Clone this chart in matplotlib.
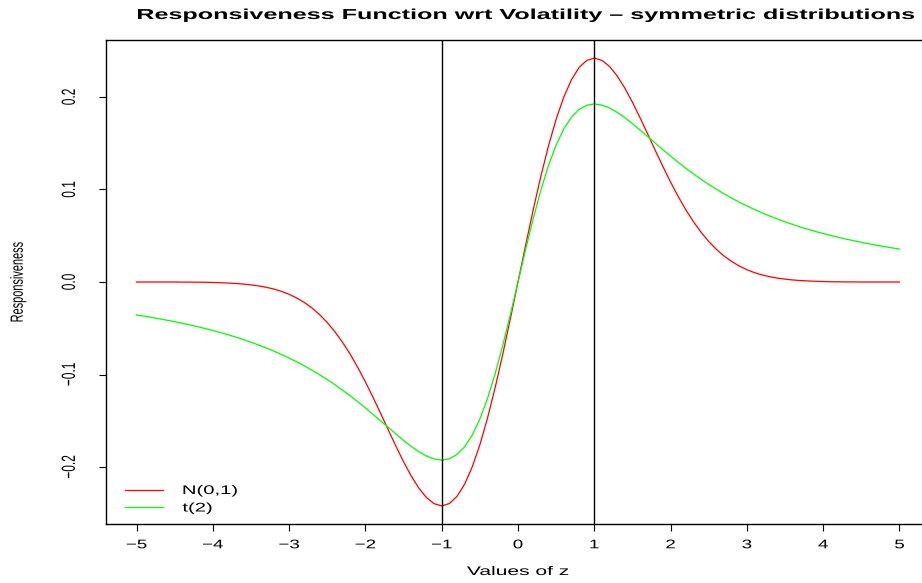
import numpy as np
import matplotlib
matplotlib.use("Agg")
import matplotlib.pyplot as plt
from matplotlib.patheffects import AbstractPathEffect
from matplotlib.transforms import Affine2D
from matplotlib.path import Path

# ---------------- data ----------------
title = "Responsiveness Function wrt Volatility \u2013 symmetric distributions"
x_label = "Values of z"
y_label = "Responsiveness"
series_names = ["N(0,1)", "t(2)"]
series_colors = ["#FF0000", "#00FF00"]

z = np.round(np.linspace(-5.0, 5.0, 101), 1)

normal_resp = [
    -0.0000, -0.0000, -0.0000, -0.0000, -0.0000, -0.0000, -0.0001, -0.0001, -0.0002, -0.0003,
    -0.0005, -0.0008, -0.0011, -0.0016, -0.0022, -0.0031, -0.0042, -0.0057, -0.0076, -0.0101,
    -0.0133, -0.0173, -0.0222, -0.0281, -0.0353, -0.0438, -0.0537, -0.0652, -0.0780, -0.0924,
    -0.1080, -0.1247, -0.1421, -0.1599, -0.1775, -0.1943, -0.2096, -0.2228, -0.2330, -0.2396,
    -0.2420, -0.2395, -0.2318, -0.2186, -0.1999, -0.1760, -0.1473, -0.1144, -0.0782, -0.0397,
    0.0000,
    0.0397, 0.0782, 0.1144, 0.1473, 0.1760, 0.1999, 0.2186, 0.2318, 0.2395, 0.2420,
    0.2396, 0.2330, 0.2228, 0.2096, 0.1943, 0.1775, 0.1599, 0.1421, 0.1247, 0.1080,
    0.0924, 0.0780, 0.0652, 0.0537, 0.0438, 0.0353, 0.0281, 0.0222, 0.0173, 0.0133,
    0.0101, 0.0076, 0.0057, 0.0042, 0.0031, 0.0022, 0.0016, 0.0011, 0.0008, 0.0005,
    0.0003, 0.0002, 0.0001, 0.0001, 0.0000, 0.0000, 0.0000, 0.0000, 0.0000, 0.0000,
]

t2_resp = [
    -0.0356, -0.0369, -0.0383, -0.0398, -0.0413, -0.0429, -0.0446, -0.0464, -0.0483, -0.0503,
    -0.0524, -0.0546, -0.0570, -0.0595, -0.0622, -0.0651, -0.0681, -0.0713, -0.0747, -0.0784,
    -0.0822, -0.0863, -0.0907, -0.0954, -0.1003, -0.1055, -0.1110, -0.1169, -0.1230, -0.1294,
    -0.1361, -0.1430, -0.1501, -0.1572, -0.1643, -0.1712, -0.1777, -0.1834, -0.1881, -0.1913,
    -0.1925, -0.1911, -0.1865, -0.1782, -0.1655, -0.1481, -0.1260, -0.0993, -0.0686, -0.0351,
    0.0000,
    0.0351, 0.0686, 0.0993, 0.1260, 0.1481, 0.1655, 0.1782, 0.1865, 0.1911, 0.1925,
    0.1913, 0.1881, 0.1834, 0.1777, 0.1712, 0.1643, 0.1572, 0.1501, 0.1430, 0.1361,
    0.1294, 0.1230, 0.1169, 0.1110, 0.1055, 0.1003, 0.0954, 0.0907, 0.0863, 0.0822,
    0.0784, 0.0747, 0.0713, 0.0681, 0.0651, 0.0622, 0.0595, 0.0570, 0.0546, 0.0524,
    0.0503, 0.0483, 0.0464, 0.0446, 0.0429, 0.0413, 0.0398, 0.0383, 0.0369, 0.0356,
]

vline_positions = [-1, 1]
x_ticks = [-5, -4, -3, -2, -1, 0, 1, 2, 3, 4, 5]
x_tick_labels = ["\u22125", "\u22124", "\u22123", "\u22122", "\u22121", "0", "1", "2", "3", "4", "5"]
y_ticks = [-0.2, -0.1, 0.0, 0.1, 0.2]
y_tick_labels = ["\u22120.2", "\u22120.1", "0.0", "0.1", "0.2"]


# ---------------- text stretch effect (keeps real Text artists) ----------------
class Stretch(AbstractPathEffect):
    def __init__(self, sx=1.0, sy=1.0, anchor="center"):
        super().__init__()
        self.sx, self.sy, self.anchor = sx, sy, anchor

    def draw_path(self, renderer, gc, tpath, affine, rgbFace=None):
        v = tpath.vertices
        if tpath.codes is not None:
            v = v[tpath.codes != Path.CLOSEPOLY]
        if len(v):
            x0, x1 = v[:, 0].min(), v[:, 0].max()
            y0, y1 = v[:, 1].min(), v[:, 1].max()
        else:
            x0 = x1 = y0 = y1 = 0.0
        cx = x0 if self.anchor == "left" else 0.5 * (x0 + x1)
        cy = 0.5 * (y0 + y1)
        pre = Affine2D().translate(-cx, -cy).scale(self.sx, self.sy).translate(cx, cy)
        renderer.draw_path(gc, tpath, pre + affine, rgbFace)


plt.rcParams["font.family"] = ["Liberation Sans", "DejaVu Sans"]

W, H = 922, 583
fig = plt.figure(figsize=(W / 100, H / 100), dpi=100)
ax_left, ax_right, ax_top, ax_bottom = 106, 930, 40, 524
ax = fig.add_axes([ax_left / W, 1 - ax_bottom / H, (ax_right - ax_left) / W, (ax_bottom - ax_top) / H])

ax.plot(z, normal_resp, color=series_colors[0], lw=0.9, label=series_names[0])
ax.plot(z, t2_resp, color=series_colors[1], lw=0.9, label=series_names[1])
for xv in vline_positions:
    ax.axvline(xv, color="black", lw=1.0)

ax.set_xlim(-5.4, 5.4)
ax.set_ylim(-0.2616, 0.2616)

for s in ax.spines.values():
    s.set_linewidth(1.0)
    s.set_color("black")

ax.set_xticks(x_ticks, x_tick_labels)
ax.set_yticks(y_ticks, y_tick_labels)
ax.tick_params(axis="x", direction="out", length=5, width=0.8, pad=6, labelsize=9)
ax.tick_params(axis="y", direction="out", length=5, width=0.8, pad=17, labelsize=8.6)
for lbl in ax.get_xticklabels():
    lbl.set_path_effects([Stretch(sx=1.5)])
for lbl in ax.get_yticklabels():
    lbl.set_rotation(90)
    lbl.set_va("center")
    lbl.set_path_effects([Stretch(sy=1.6)])

xl = ax.set_xlabel(x_label, fontsize=9, va="center")
ax.xaxis.set_label_coords(0.5, -(572 - ax_bottom) / (ax_bottom - ax_top))
xl.set_path_effects([Stretch(sx=1.68)])

yl = ax.set_ylabel(y_label, fontsize=7.9, rotation=90, va="center", ha="center")
ax.yaxis.set_label_coords((18 - ax_left) / (ax_right - ax_left), 0.5)
yl.set_path_effects([Stretch(sy=1.6)])

tt = ax.set_title(title, fontsize=10.4, fontweight="bold", pad=0,
                  x=(524.5 - ax_left) / (ax_right - ax_left),
                  y=(ax_bottom - 15) / (ax_bottom - ax_top), va="center")
tt.set_path_effects([Stretch(sx=1.74)])

leg = ax.legend(loc="upper left", bbox_to_anchor=(125 / W, 1 - 485 / H),
                bbox_transform=fig.transFigure, frameon=False, borderpad=0,
                borderaxespad=0, handlelength=3.0, handletextpad=1.6,
                labelspacing=0.44, fontsize=9)
for t in leg.get_texts():
    t.set_path_effects([Stretch(sx=1.62, anchor="left")])

fig.savefig("out.png", dpi=100)
